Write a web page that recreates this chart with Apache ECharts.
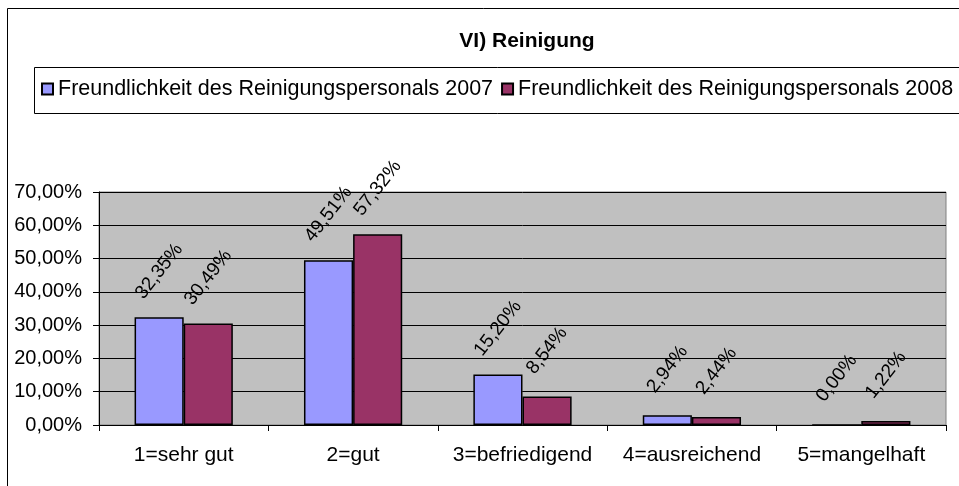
<!DOCTYPE html>
<html>
<head>
<meta charset="utf-8">
<script src="https://cdn.jsdelivr.net/npm/echarts@6/dist/echarts.min.js"></script>
<style>
  html, body { margin: 0; padding: 0; background: #fff; }
  #chart { width: 959px; height: 486px; }
</style>
</head>
<body>
<div id="chart"></div>
<script>
// Kategorien und Werte (in %)
var categories = ['1=sehr gut', '2=gut', '3=befriedigend', '4=ausreichend', '5=mangelhaft']
var seriesNames = ['Freundlichkeit des Reinigungspersonals 2007', 'Freundlichkeit des Reinigungspersonals 2008']
var values2007 = [32.35, 49.51, 15.20, 2.94, 0.00]
var values2008 = [30.49, 57.32, 8.54, 2.44, 1.22]
var yTicks = [0, 10, 20, 30, 40, 50, 60, 70]

var font = "'Liberation Sans', Arial, sans-serif"

function pct (v) {
  return v.toFixed(2).replace('.', ',') + '%'
}

function barSeries (name, data, color) {
  return {
    name: name,
    type: 'bar',
    data: data,
    barGap: 0,
    barCategoryGap: '42%',
    itemStyle: { color: color, borderColor: '#000', borderWidth: 1.5 },
    label: {
      show: true,
      position: 'top',
      distance: 46,
      rotate: 52,
      align: 'center',
      verticalAlign: 'middle',
      fontFamily: font,
      fontSize: 19,
      color: '#000',
      formatter: function (p) { return pct(p.value) }
    }
  }
}

var myChart = echarts.init(document.getElementById('chart'))
myChart.setOption({
  animation: false,
  backgroundColor: '#fff',
  title: {
    text: 'VI) Reinigung',
    left: 522,
    top: 26,
    textAlign: 'center',
    textStyle: { fontFamily: font, fontSize: 21, fontWeight: 'bold', color: '#000' }
  },
  // äußerer Rahmen und Legendenrahmen
  graphic: [
    { type: 'rect', shape: { x: 7.5, y: 8.5, width: 1000, height: 600 }, style: { fill: 'none', stroke: '#000', lineWidth: 1 } },
    { type: 'rect', shape: { x: 34.5, y: 67.5, width: 1000, height: 46 }, style: { fill: 'none', stroke: '#000', lineWidth: 1 } }
  ],
  legend: {
    left: 41,
    top: 78,
    padding: 0,
    itemGap: 8,
    itemWidth: 11,
    itemHeight: 11,
    icon: 'rect',
    textStyle: { fontFamily: font, fontSize: 21.5, color: '#000' },
    data: seriesNames
  },
  grid: {
    left: 99,
    right: 13,
    top: 192,
    bottom: 61,
    show: true,
    backgroundColor: '#C0C0C0',
    borderColor: '#808080',
    borderWidth: 1
  },
  xAxis: {
    type: 'category',
    data: categories,
    axisLine: { lineStyle: { color: '#000', width: 1 } },
    axisTick: { show: true, length: 6, lineStyle: { color: '#000' } },
    axisLabel: { interval: 0, margin: 20, fontFamily: font, fontSize: 21, color: '#000' }
  },
  yAxis: {
    type: 'value',
    min: yTicks[0],
    max: yTicks[yTicks.length - 1],
    interval: 10,
    axisLine: { show: true, lineStyle: { color: '#000', width: 1 } },
    axisTick: { show: true, length: 6, lineStyle: { color: '#000' } },
    splitLine: { lineStyle: { color: '#000', width: 1 } },
    axisLabel: { margin: 17, fontFamily: font, fontSize: 20, color: '#000', formatter: pct }
  },
  series: [
    barSeries(seriesNames[0], values2007, '#9999FF'),
    barSeries(seriesNames[1], values2008, '#993366')
  ]
})
</script>
</body>
</html>
